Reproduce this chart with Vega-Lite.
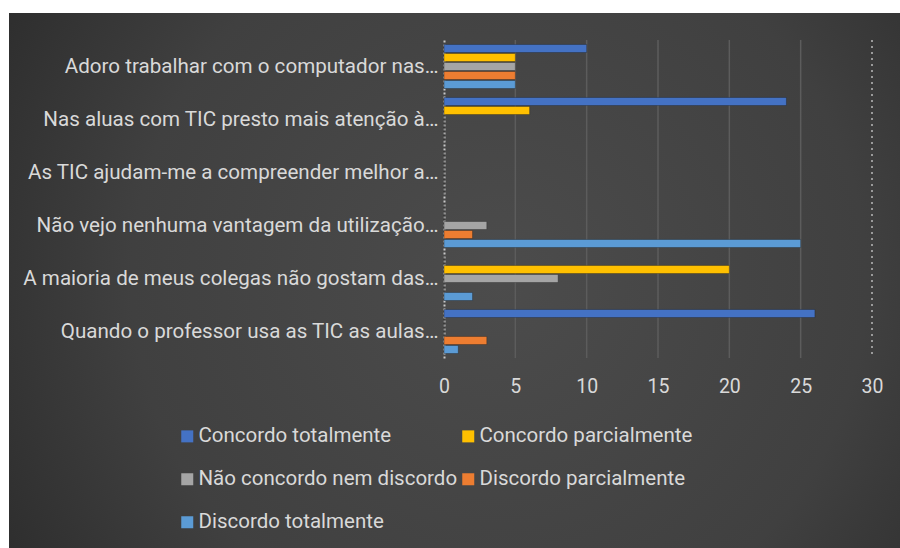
{
  "$schema": "https://vega.github.io/schema/vega-lite/v6.json",
  "autosize": "none",
  "width": 891,
  "height": 535,
  "padding": {"left": 9, "top": 13, "right": 0, "bottom": 0},
  "background": "white",
  "datasets": {
    "answers": [
      {"cat": "Adoro trabalhar com o computador nas…", "serie": "Concordo totalmente", "v": 10},
      {"cat": "Adoro trabalhar com o computador nas…", "serie": "Concordo parcialmente", "v": 5},
      {"cat": "Adoro trabalhar com o computador nas…", "serie": "Não concordo nem discordo", "v": 5},
      {"cat": "Adoro trabalhar com o computador nas…", "serie": "Discordo parcialmente", "v": 5},
      {"cat": "Adoro trabalhar com o computador nas…", "serie": "Discordo totalmente", "v": 5},
      {"cat": "Nas aluas com TIC presto mais atenção à…", "serie": "Concordo totalmente", "v": 24},
      {"cat": "Nas aluas com TIC presto mais atenção à…", "serie": "Concordo parcialmente", "v": 6},
      {"cat": "Nas aluas com TIC presto mais atenção à…", "serie": "Não concordo nem discordo", "v": 0},
      {"cat": "Nas aluas com TIC presto mais atenção à…", "serie": "Discordo parcialmente", "v": 0},
      {"cat": "Nas aluas com TIC presto mais atenção à…", "serie": "Discordo totalmente", "v": 0},
      {"cat": "As TIC ajudam-me a compreender melhor a…", "serie": "Concordo totalmente", "v": 0},
      {"cat": "As TIC ajudam-me a compreender melhor a…", "serie": "Concordo parcialmente", "v": 0},
      {"cat": "As TIC ajudam-me a compreender melhor a…", "serie": "Não concordo nem discordo", "v": 0},
      {"cat": "As TIC ajudam-me a compreender melhor a…", "serie": "Discordo parcialmente", "v": 0},
      {"cat": "As TIC ajudam-me a compreender melhor a…", "serie": "Discordo totalmente", "v": 0},
      {"cat": "Não vejo nenhuma vantagem da utilização…", "serie": "Concordo totalmente", "v": 0},
      {"cat": "Não vejo nenhuma vantagem da utilização…", "serie": "Concordo parcialmente", "v": 0},
      {"cat": "Não vejo nenhuma vantagem da utilização…", "serie": "Não concordo nem discordo", "v": 3},
      {"cat": "Não vejo nenhuma vantagem da utilização…", "serie": "Discordo parcialmente", "v": 2},
      {"cat": "Não vejo nenhuma vantagem da utilização…", "serie": "Discordo totalmente", "v": 25},
      {"cat": "A maioria de meus colegas não gostam das…", "serie": "Concordo totalmente", "v": 0},
      {"cat": "A maioria de meus colegas não gostam das…", "serie": "Concordo parcialmente", "v": 20},
      {"cat": "A maioria de meus colegas não gostam das…", "serie": "Não concordo nem discordo", "v": 8},
      {"cat": "A maioria de meus colegas não gostam das…", "serie": "Discordo parcialmente", "v": 0},
      {"cat": "A maioria de meus colegas não gostam das…", "serie": "Discordo totalmente", "v": 2},
      {"cat": "Quando o professor usa as TIC as aulas…", "serie": "Concordo totalmente", "v": 26},
      {"cat": "Quando o professor usa as TIC as aulas…", "serie": "Concordo parcialmente", "v": 0},
      {"cat": "Quando o professor usa as TIC as aulas…", "serie": "Não concordo nem discordo", "v": 0},
      {"cat": "Quando o professor usa as TIC as aulas…", "serie": "Discordo parcialmente", "v": 3},
      {"cat": "Quando o professor usa as TIC as aulas…", "serie": "Discordo totalmente", "v": 1}
    ],
    "grid": [{"g": 5}, {"g": 10}, {"g": 15}, {"g": 20}, {"g": 25}]
  },
  "layer": [
    {
      "data": {"name": "grid"},
      "mark": {"type": "rule", "stroke": "#5c5c5c", "strokeWidth": 1.5},
      "encoding": {
        "x": {"field": "g", "type": "quantitative", "title": null},
        "y": {"datum": "Adoro trabalhar com o computador nas…", "type": "nominal", "bandPosition": 0, "title": null},
        "y2": {"datum": "Quando o professor usa as TIC as aulas…", "bandPosition": 1}
      }
    },
    {
      "data": {"name": "grid"},
      "mark": {"type": "rule", "stroke": "#9a9a9a", "strokeWidth": 1.5, "strokeDash": [2, 4]},
      "encoding": {
        "x": {"datum": 30, "type": "quantitative", "title": null},
        "y": {"datum": "Adoro trabalhar com o computador nas…", "type": "nominal", "bandPosition": 0, "title": null},
        "y2": {"datum": "Quando o professor usa as TIC as aulas…", "bandPosition": 1}
      }
    },
    {
      "data": {"name": "answers"},
      "mark": {"type": "bar", "stroke": "#1e1e1e", "strokeOpacity": 0.35, "strokeWidth": 1},
      "encoding": {
        "x": {
          "field": "v", "type": "quantitative", "stack": null, "title": null,
          "scale": {"domain": [0, 30], "range": [435, 863], "nice": false},
          "axis": {"values": [0, 5, 10, 15, 20, 25, 30]}
        },
        "y": {
          "field": "cat", "type": "nominal", "title": null,
          "scale": {
            "domain": [
              "Adoro trabalhar com o computador nas…",
              "Nas aluas com TIC presto mais atenção à…",
              "As TIC ajudam-me a compreender melhor a…",
              "Não vejo nenhuma vantagem da utilização…",
              "A maioria de meus colegas não gostam das…",
              "Quando o professor usa as TIC as aulas…"
            ],
            "range": [27, 345], "paddingInner": 0, "paddingOuter": 0
          }
        },
        "yOffset": {
          "field": "serie", "type": "nominal",
          "sort": ["Concordo totalmente", "Concordo parcialmente", "Não concordo nem discordo", "Discordo parcialmente", "Discordo totalmente"],
          "scale": {"paddingInner": 0.11, "paddingOuter": 0.5}
        },
        "color": {
          "field": "serie", "type": "nominal", "title": null,
          "scale": {
            "domain": ["Concordo totalmente", "Concordo parcialmente", "Não concordo nem discordo", "Discordo parcialmente", "Discordo totalmente"],
            "range": ["#4472C4", "#FFC000", "#A5A5A5", "#ED7D31", "#5B9BD5"]
          }
        }
      }
    }
  ],
  "config": {
    "font": "Roboto",
    "view": {
      "stroke": null,
      "fill": {
        "gradient": "radial",
        "x1": 0.55, "y1": 0.5, "r1": 0,
        "x2": 0.55, "y2": 0.5, "r2": 0.75,
        "stops": [
          {"offset": 0, "color": "#4c4c4c"},
          {"offset": 0.55, "color": "#404040"},
          {"offset": 1, "color": "#242424"}
        ]
      }
    },
    "axisY": {
      "offset": -435,
      "domain": true,
      "domainColor": "#c8c8c8",
      "domainDash": [2, 2],
      "domainWidth": 2,
      "ticks": false,
      "grid": false,
      "labelColor": "#d9d9d9",
      "labelFontSize": 20.6,
      "labelPadding": 6,
      "labelLimit": 0
    },
    "axisX": {
      "offset": -190,
      "domain": false,
      "ticks": false,
      "grid": false,
      "labelFlush": false,
      "labelColor": "#d9d9d9",
      "labelFontSize": 19.5,
      "labelPadding": 19
    },
    "legend": {
      "orient": "none",
      "legendX": 168,
      "legendY": 413,
      "direction": "horizontal",
      "columns": 2,
      "padding": 0,
      "symbolType": "square",
      "symbolSize": 144,
      "symbolStrokeWidth": 0,
      "labelColor": "#d9d9d9",
      "labelFontSize": 20.5,
      "labelOffset": 1,
      "labelLimit": 0,
      "columnPadding": 0,
      "rowPadding": 22
    }
  }
}
